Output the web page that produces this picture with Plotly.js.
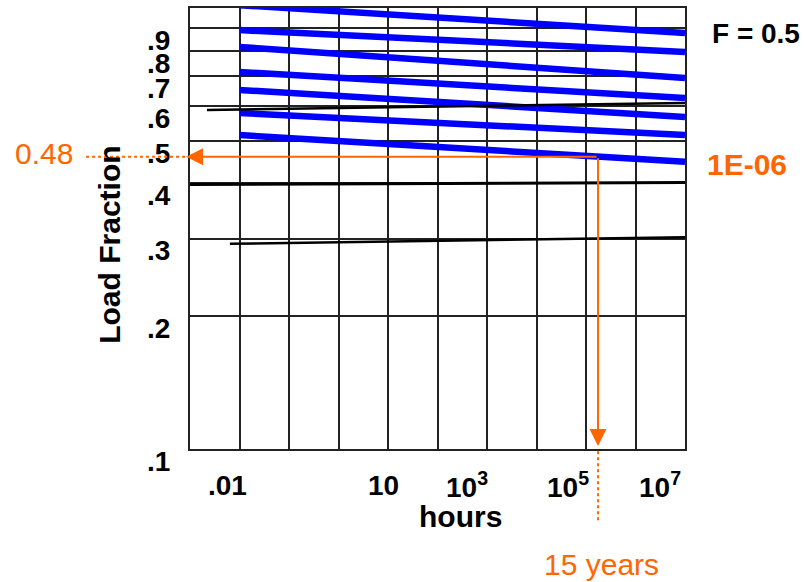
<!DOCTYPE html>
<html>
<head>
<meta charset="utf-8">
<script src="https://cdn.plot.ly/plotly-3.0.1.min.js"></script>
<style>html,body{margin:0;padding:0;background:#fff;}#chart{width:804px;height:582px;}</style>
</head>
<body>
<div id="chart"></div>
<script>
// ---- data ----
var curveHours = [0.01, 1e7];
var curveNames = ['F = 0.5', 'F = 0.1', 'F = 0.01', 'F = 1E-03', 'F = 1E-04', 'F = 1E-05', 'F = 1E-06'];
var curveStart = [1.015, 0.891, 0.816, 0.716, 0.652, 0.578, 0.515];
var curveEnd   = [0.878, 0.795, 0.694, 0.625, 0.566, 0.515, 0.448];

var blackHoursA = [0.0064, 1e7];
var blackLoadA  = [0.292, 0.302];
var blackHoursB = [0.001, 1e7];
var blackLoadB  = [0.398, 0.402];
var blackHoursC = [0.0022, 1e7];
var blackLoadC  = [0.587, 0.609];

var guideHours = 1.75e5;   // "15 years"
var guideLoad  = 0.46;     // "0.48"

var yTickVals = [0.1, 0.2, 0.3, 0.4, 0.5, 0.6, 0.7, 0.8, 0.9];
var yTickText = ['.1', '.2', '.3', '.4', '.5', '.6', '.7', '.8', '.9'];
var xGridVals = [1e-3, 1e-2, 1e-1, 1, 10, 100, 1e3, 1e4, 1e5, 1e6, 1e7];
var xTickVals = [0.01, 10, 1e3, 1e5, 1e7];
var xTickText = ['.01', '10', '10<sup>3</sup>', '10<sup>5</sup>', '10<sup>7</sup>'];
var xTickShift = [-12, -5, -20, -18, -25];

// ---- styling ----
var FONT = 'Liberation Sans, Arial, Helvetica, sans-serif';
var ORANGE = '#FF6600';
var BLUE = '#0000FF';
var GRID = '#222222';

var traces = [];
for (var i = 0; i < curveNames.length; i++) {
  traces.push({
    type: 'scatter', mode: 'lines', name: curveNames[i],
    x: curveHours, y: [curveStart[i], curveEnd[i]],
    line: {color: BLUE, width: 6.5}, showlegend: false, hoverinfo: 'skip'
  });
}
[[blackHoursA, blackLoadA, 2.5], [blackHoursB, blackLoadB, 3], [blackHoursC, blackLoadC, 2.5]].forEach(function (b) {
  traces.push({
    type: 'scatter', mode: 'lines', x: b[0], y: b[1],
    line: {color: '#000', width: b[2]}, showlegend: false, hoverinfo: 'skip'
  });
});

var lgH = Math.log10(guideHours), lgL = Math.log10(guideLoad);

function txt(x, y, text, size, color, bold, extra) {
  var a = {xref: 'paper', yref: 'paper', x: x, y: y, text: text, showarrow: false,
           xanchor: 'center', yanchor: 'middle',
           font: {family: FONT, size: size, color: color, weight: bold ? 'bold' : 'normal'}};
  for (var k in (extra || {})) a[k] = extra[k];
  return a;
}

var annotations = [];
for (var j = 0; j < xTickVals.length; j++) {
  annotations.push({
    xref: 'x', yref: 'paper', x: Math.log10(xTickVals[j]), y: -0.082, xshift: xTickShift[j],
    text: xTickText[j], showarrow: false, xanchor: 'center', yanchor: 'middle',
    font: {family: FONT, size: 28, color: '#000', weight: 'bold'}
  });
}
annotations.push(
  txt(0.547, -0.154, 'hours', 30, '#000', true),
  txt(-0.162, 0.4626, 'Load Fraction', 30, '#000', true, {textangle: -90}),
  txt(1.143, 0.943, 'F = 0.5', 28, '#000', true),
  txt(1.125, 0.646, '1E-06', 30, ORANGE, true),
  txt(-0.295, 0.669, '0.48', 30, ORANGE, false),
  txt(0.832, -0.263, '15 years', 30, ORANGE, false),
  // arrows
  {xref: 'x', yref: 'y', axref: 'x', ayref: 'y', x: -3.08, y: lgL, ax: lgH, ay: lgL, text: '',
   showarrow: true, arrowhead: 2, arrowsize: 1.7, arrowwidth: 2, arrowcolor: ORANGE, standoff: 0},
  {xref: 'x', yref: 'y', axref: 'x', ayref: 'y', x: lgH, y: -0.993, ax: lgH, ay: lgL, text: '',
   showarrow: true, arrowhead: 2, arrowsize: 1.7, arrowwidth: 2, arrowcolor: ORANGE, standoff: 0}
);

var shapes = [
  {type: 'line', xref: 'paper', yref: 'paper', x0: -0.21, x1: -0.008, y0: lgL + 1, y1: lgL + 1,
   line: {color: ORANGE, width: 2, dash: 'dot'}},
  {type: 'line', xref: 'paper', yref: 'paper', x0: (lgH + 3) / 10, x1: (lgH + 3) / 10, y0: -0.005, y1: -0.168,
   line: {color: ORANGE, width: 2, dash: 'dot'}}
];

var layout = {
  width: 804, height: 582,
  margin: {l: 190, r: 119, t: 8, b: 133, pad: 0},
  paper_bgcolor: '#fff', plot_bgcolor: '#fff',
  showlegend: false,
  font: {family: FONT, color: '#000'},
  xaxis: {
    type: 'log', range: [-3, 7], tickmode: 'array', tickvals: xGridVals,
    showticklabels: false, ticks: '', showgrid: true, gridcolor: GRID, gridwidth: 2,
    showline: true, mirror: true, linecolor: GRID, linewidth: 2, zeroline: false, fixedrange: true
  },
  yaxis: {
    type: 'log', range: [-1, 0], tickmode: 'array', tickvals: yTickVals, ticktext: yTickText,
    ticks: '', ticklabelstandoff: 12, ticklabelshift: 12,
    tickfont: {family: FONT, size: 28, color: '#000', weight: 'bold'},
    showgrid: true, gridcolor: GRID, gridwidth: 2,
    showline: true, mirror: true, linecolor: GRID, linewidth: 2, zeroline: false, fixedrange: true
  },
  annotations: annotations,
  shapes: shapes
};

Plotly.newPlot('chart', traces, layout, {staticPlot: true, displayModeBar: false});
</script>
</body>
</html>
